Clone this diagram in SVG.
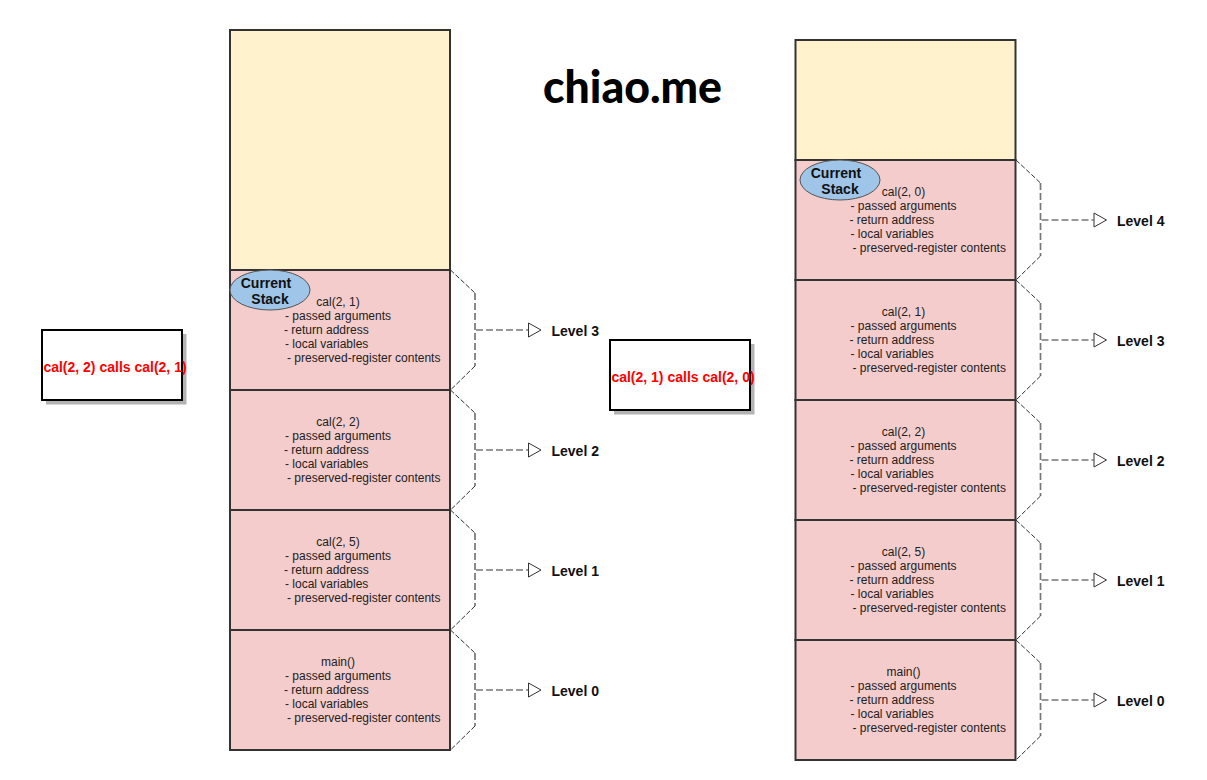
<svg xmlns="http://www.w3.org/2000/svg" width="1207" height="780" viewBox="0 0 1207 780">
<style>
text{font-family:"Liberation Sans",Arial,sans-serif;fill:#222}
.t{font-size:12px}.m{text-anchor:middle}
.b{fill:#f4cccc;stroke:#333;stroke-width:2}
.y{fill:#fff2cc;stroke:#333;stroke-width:2}
.br{fill:none;stroke:#333;stroke-width:1;stroke-dasharray:5 2}
.ar{fill:none;stroke:#777;stroke-width:1.700;stroke-dasharray:7 3}
.h{fill:#fff;stroke:#333;stroke-width:1}
.lv{font-size:14px;font-weight:bold;fill:#111}
.cs{font-size:14px;font-weight:bold;text-anchor:middle;fill:#111}
.el{fill:#9fc5e8;stroke:#555;stroke-width:1}
.sh{fill:#b3b3b3}.bx{fill:#fff;stroke:#000;stroke-width:2}
.red{font-size:14px;font-weight:bold;fill:#f00;text-anchor:middle}
</style>
<defs>
<g id="lines" class="t">
<text x="55" y="50">- passed arguments</text>
<text x="54" y="64">- return address</text>
<text x="55" y="78">- local variables</text>
<text x="57" y="92">- preserved-register contents</text>
</g>
<g id="brace">
<path class="br" d="M220.500 0L245 23"/><path class="ar" d="M245 23V96"/><path class="br" d="M245 96L220.500 120"/><path class="ar" d="M246 60H298"/><path class="h" d="M298.500 53L311 60L298.500 67Z"/>
</g>
</defs>
<g id="connectors">
<use href="#brace" x="230" y="270"/>
<use href="#brace" x="230" y="390"/>
<use href="#brace" x="230" y="510"/>
<use href="#brace" x="230" y="630"/>
<use href="#brace" x="795.500" y="160"/>
<use href="#brace" x="795.500" y="280"/>
<use href="#brace" x="795.500" y="400"/>
<use href="#brace" x="795.500" y="520"/>
<use href="#brace" x="795.500" y="640"/>
</g>
<g id="title"><text x="543" y="103" font-size="46" font-weight="900" textLength="179" lengthAdjust="spacingAndGlyphs" style="font-family:'Lato',sans-serif;fill:#000">chiao.me</text></g>
<g id="note-left"><rect class="sh" x="46" y="334" width="140.500" height="70.500"/><rect class="bx" x="42" y="330" width="140" height="70"/><text class="red" x="115" y="372">cal(2, 2) calls cal(2, 1)</text></g>
<g id="note-right"><rect class="sh" x="614" y="344" width="140.500" height="70.500"/><rect class="bx" x="610" y="340" width="140" height="70"/><text class="red" x="683" y="382">cal(2, 1) calls cal(2, 0)</text></g>
<g id="left-free"><rect class="y" x="230" y="30" width="220" height="240"/></g>
<g id="left-3" transform="translate(230,270)"><rect class="b" width="220" height="120"/><text class="t m" x="108" y="36">cal(2, 1)</text><use href="#lines"/><text class="lv" x="321.500" y="66">Level 3</text></g>
<g id="left-2" transform="translate(230,390)"><rect class="b" width="220" height="120"/><text class="t m" x="108" y="36">cal(2, 2)</text><use href="#lines"/><text class="lv" x="321.500" y="66">Level 2</text></g>
<g id="left-1" transform="translate(230,510)"><rect class="b" width="220" height="120"/><text class="t m" x="108" y="36">cal(2, 5)</text><use href="#lines"/><text class="lv" x="321.500" y="66">Level 1</text></g>
<g id="left-0" transform="translate(230,630)"><rect class="b" width="220" height="120"/><text class="t m" x="108" y="36">main()</text><use href="#lines"/><text class="lv" x="321.500" y="66">Level 0</text></g>
<g id="left-current"><ellipse class="el" cx="270" cy="290" rx="40" ry="20"/><text class="cs" x="266" y="288">Current</text><text class="cs" x="270" y="304">Stack</text></g>
<g id="right-free"><rect class="y" x="795.500" y="40" width="220" height="120"/></g>
<g id="right-4" transform="translate(795.500,160)"><rect class="b" width="220" height="120"/><text class="t m" x="108" y="36">cal(2, 0)</text><use href="#lines"/><text class="lv" x="321.500" y="66">Level 4</text></g>
<g id="right-3" transform="translate(795.500,280)"><rect class="b" width="220" height="120"/><text class="t m" x="108" y="36">cal(2, 1)</text><use href="#lines"/><text class="lv" x="321.500" y="66">Level 3</text></g>
<g id="right-2" transform="translate(795.500,400)"><rect class="b" width="220" height="120"/><text class="t m" x="108" y="36">cal(2, 2)</text><use href="#lines"/><text class="lv" x="321.500" y="66">Level 2</text></g>
<g id="right-1" transform="translate(795.500,520)"><rect class="b" width="220" height="120"/><text class="t m" x="108" y="36">cal(2, 5)</text><use href="#lines"/><text class="lv" x="321.500" y="66">Level 1</text></g>
<g id="right-0" transform="translate(795.500,640)"><rect class="b" width="220" height="120"/><text class="t m" x="108" y="36">main()</text><use href="#lines"/><text class="lv" x="321.500" y="66">Level 0</text></g>
<g id="right-current"><ellipse class="el" cx="840" cy="180" rx="40" ry="20"/><text class="cs" x="836" y="178">Current</text><text class="cs" x="840" y="194">Stack</text></g>
</svg>
